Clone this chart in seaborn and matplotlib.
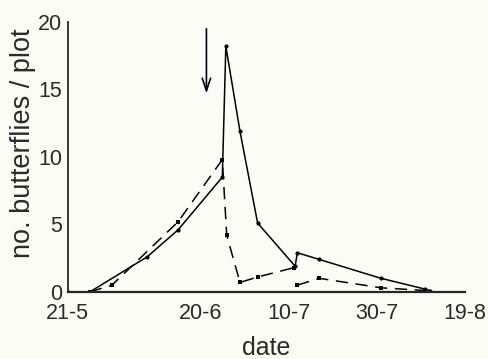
import pandas as pd
import seaborn as sns
import matplotlib.pyplot as plt

# days since 21 May
solid_day = [0, 5, 18, 25, 35, 35.8, 39, 43, 51.5, 52, 57, 71, 81, 82]
solid_val = [0, 0, 2.6, 4.6, 8.5, 18.2, 11.9, 5.1, 1.9, 2.9, 2.4, 1.0, 0.2, 0.1]

dash1_day = [5, 10, 25, 35, 36, 39, 43, 51.3]
dash1_val = [0, 0.5, 5.2, 9.8, 4.2, 0.7, 1.1, 1.8]
dash2_day = [52, 57, 71, 81]
dash2_val = [0.5, 1.0, 0.3, 0.1]

tick_days = [0, 30, 50, 70, 90]
tick_labels = ["21-5", "20-6", "10-7", "30-7", "19-8"]

solid = pd.DataFrame({"day": solid_day, "n": solid_val})
d1 = pd.DataFrame({"day": dash1_day, "n": dash1_val})
d2 = pd.DataFrame({"day": dash2_day, "n": dash2_val})

sns.set_style("ticks")
plt.rcParams["font.family"] = ["Liberation Sans", "DejaVu Sans"]
bg = "#fcfcf6"
txt = "#2a2a2a"

fig = plt.figure(figsize=(4.88, 3.59), dpi=100, facecolor=bg)
ax = fig.add_axes([0.139, 0.187, 0.814, 0.752])
ax.set_facecolor(bg)

sns.lineplot(data=solid, x="day", y="n", ax=ax, color="black", lw=1.1,
             marker="o", markersize=3, markeredgewidth=0)
for d in (d1, d2):
    sns.lineplot(data=d, x="day", y="n", ax=ax, color="black", lw=1.1,
                 marker="s", markersize=2.5, markeredgewidth=0)
ax.lines[-1].set_dashes([8, 5])
ax.lines[-2].set_dashes([8, 5])

ax.annotate("", xy=(31.4, 14.5), xytext=(31.4, 19.7),
            arrowprops=dict(arrowstyle="->,head_length=0.9,head_width=0.3",
                            color="black", lw=1.2))

ax.set_xlim(0, 90)
ax.set_ylim(0, 20)
ax.set_xticks(tick_days)
ax.set_xticklabels(tick_labels)
ax.set_yticks([0, 5, 10, 15, 20])
ax.tick_params(length=0, labelsize=15.5, colors=txt)
ax.tick_params(axis="x", pad=8)
ax.tick_params(axis="y", pad=4)
ax.set_xlabel("date", fontsize=18, color=txt)
ax.set_ylabel("no. butterflies / plot", fontsize=19.5, color=txt)
ax.xaxis.set_label_coords(0.5, -0.165)
ax.yaxis.set_label_coords(-0.08, 0.55)
for s in ("top", "right"):
    ax.spines[s].set_visible(False)
ax.spines["left"].set_linewidth(1.3)
ax.spines["bottom"].set_linewidth(1.6)

fig.savefig("out.png", dpi=100, facecolor=bg)
